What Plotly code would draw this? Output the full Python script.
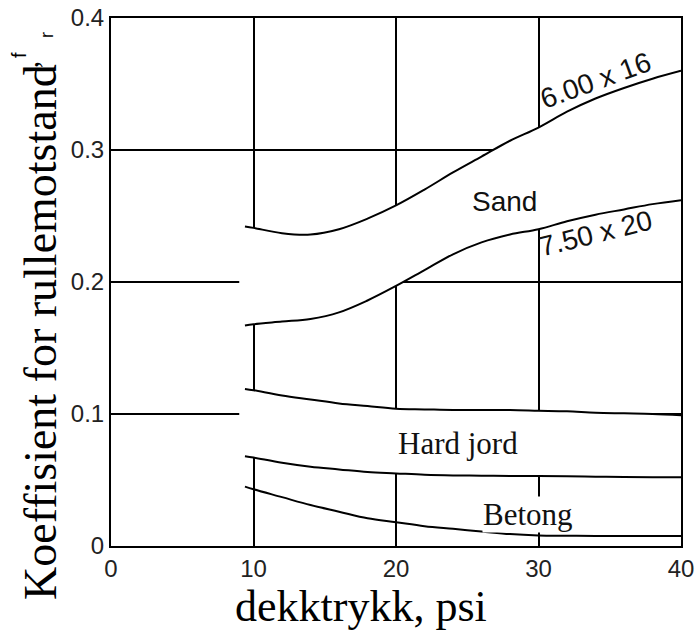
import plotly.graph_objects as go

# Data
pressure = [9.4, 10, 12, 14, 16, 18, 20, 22, 24, 26, 28, 30, 32, 34, 36, 38, 40]
sand_600x16 = [0.242, 0.241, 0.237, 0.236, 0.240, 0.248, 0.258, 0.270, 0.283, 0.295, 0.307, 0.317, 0.329, 0.339, 0.347, 0.354, 0.360]
sand_750x20 = [0.167, 0.168, 0.170, 0.172, 0.177, 0.186, 0.197, 0.209, 0.221, 0.230, 0.236, 0.240, 0.246, 0.251, 0.255, 0.259, 0.262]
hard_top = [0.119, 0.118, 0.114, 0.111, 0.108, 0.106, 0.104, 0.1035, 0.103, 0.103, 0.103, 0.1025, 0.102, 0.101, 0.1005, 0.100, 0.099]
hard_bottom = [0.068, 0.067, 0.063, 0.060, 0.058, 0.056, 0.055, 0.054, 0.0535, 0.0533, 0.053, 0.053, 0.0528, 0.0525, 0.0522, 0.052, 0.052]
betong = [0.045, 0.043, 0.037, 0.031, 0.026, 0.021, 0.018, 0.015, 0.013, 0.011, 0.009, 0.008, 0.0078, 0.0076, 0.0075, 0.0075, 0.0075]

x_ticks = [0, 10, 20, 30, 40]
x_ticktext = ["0", "10", "20", "30", "40"]
y_ticks = [0, 0.1, 0.2, 0.3, 0.4]
y_ticktext = ["0", "0.1", "0.2", "0.3", "0.4"]

fig = go.Figure()

def band(upper, lower):
    xs = [pressure[0] - 0.4] + pressure + pressure[::-1] + [pressure[0] - 0.4]
    ys = [upper[0]] + upper + lower[::-1] + [lower[0]]
    return go.Scatter(x=xs, y=ys, fill="toself", fillcolor="white",
                      line=dict(width=0, color="white"), mode="lines",
                      hoverinfo="skip", showlegend=False)

fig.add_trace(band(sand_600x16, sand_750x20))
fig.add_trace(band(hard_top, hard_bottom))

for series in [sand_600x16, sand_750x20, hard_top, hard_bottom, betong]:
    fig.add_trace(go.Scatter(x=pressure, y=series, mode="lines",
                             line=dict(color="black", width=2, shape="spline"),
                             showlegend=False))

sans = "Liberation Sans, Arial, sans-serif"
serif = "Liberation Serif, Times New Roman, serif"

annotations = [
    dict(x=34.0, y=0.353, text="6.00 x 16", textangle=-20, font=dict(family=sans, size=28, color="#111")),
    dict(x=34.0, y=0.237, text="7.50 x 20", textangle=-14, font=dict(family=sans, size=28, color="#111")),
    dict(x=27.6, y=0.261, text="Sand", font=dict(family=sans, size=28, color="#111")),
    dict(x=24.35, y=0.078, text="Hard jord", font=dict(family=serif, size=31, color="#111")),
    dict(x=29.26, y=0.0235, text="Betong", font=dict(family=serif, size=31, color="#111"), bgcolor="white"),
]
for a in annotations:
    fig.add_annotation(xref="x", yref="y", showarrow=False, xanchor="center", yanchor="middle", borderpad=0, **a)

# Axis titles
fig.add_annotation(xref="paper", yref="paper", x=0.4386, y=-0.115, text="dekktrykk, psi",
                   showarrow=False, xanchor="center", yanchor="middle",
                   font=dict(family=serif, size=44, color="black"))
fig.add_annotation(xref="paper", yref="paper", x=-0.1246, y=0.4053,
                   text="Koeffisient for rullemotstand",
                   showarrow=False, textangle=-90, xanchor="center", yanchor="middle",
                   font=dict(family=serif, size=46, color="black"))
fig.add_annotation(xref="paper", yref="paper", x=-0.146, y=0.912, text=",",
                   showarrow=False, textangle=-90, xanchor="center", yanchor="middle",
                   font=dict(family=serif, size=30, color="black"))
fig.add_annotation(xref="paper", yref="paper", x=-0.1614, y=0.930, text="f",
                   showarrow=False, textangle=-90, xanchor="center", yanchor="middle",
                   font=dict(family=sans, size=20, color="black"))
fig.add_annotation(xref="paper", yref="paper", x=-0.1123, y=0.9678, text="r",
                   showarrow=False, textangle=-90, xanchor="center", yanchor="middle",
                   font=dict(family=sans, size=18, color="black"))

axis_common = dict(showgrid=True, gridcolor="black", gridwidth=2, zeroline=False,
                   showline=True, linecolor="black", linewidth=2, mirror=True,
                   ticks="", automargin=False,
                   tickfont=dict(family=sans, size=24, color="#222"))

fig.update_xaxes(range=[0, 40], tickvals=x_ticks, ticktext=x_ticktext, **axis_common)
fig.update_yaxes(range=[0, 0.4], tickvals=y_ticks, ticktext=y_ticktext, **axis_common)

fig.update_layout(width=697, height=631, margin=dict(l=111, r=16, t=18, b=85),
                  paper_bgcolor="white", plot_bgcolor="white", showlegend=False)

fig.write_html("out.html")
